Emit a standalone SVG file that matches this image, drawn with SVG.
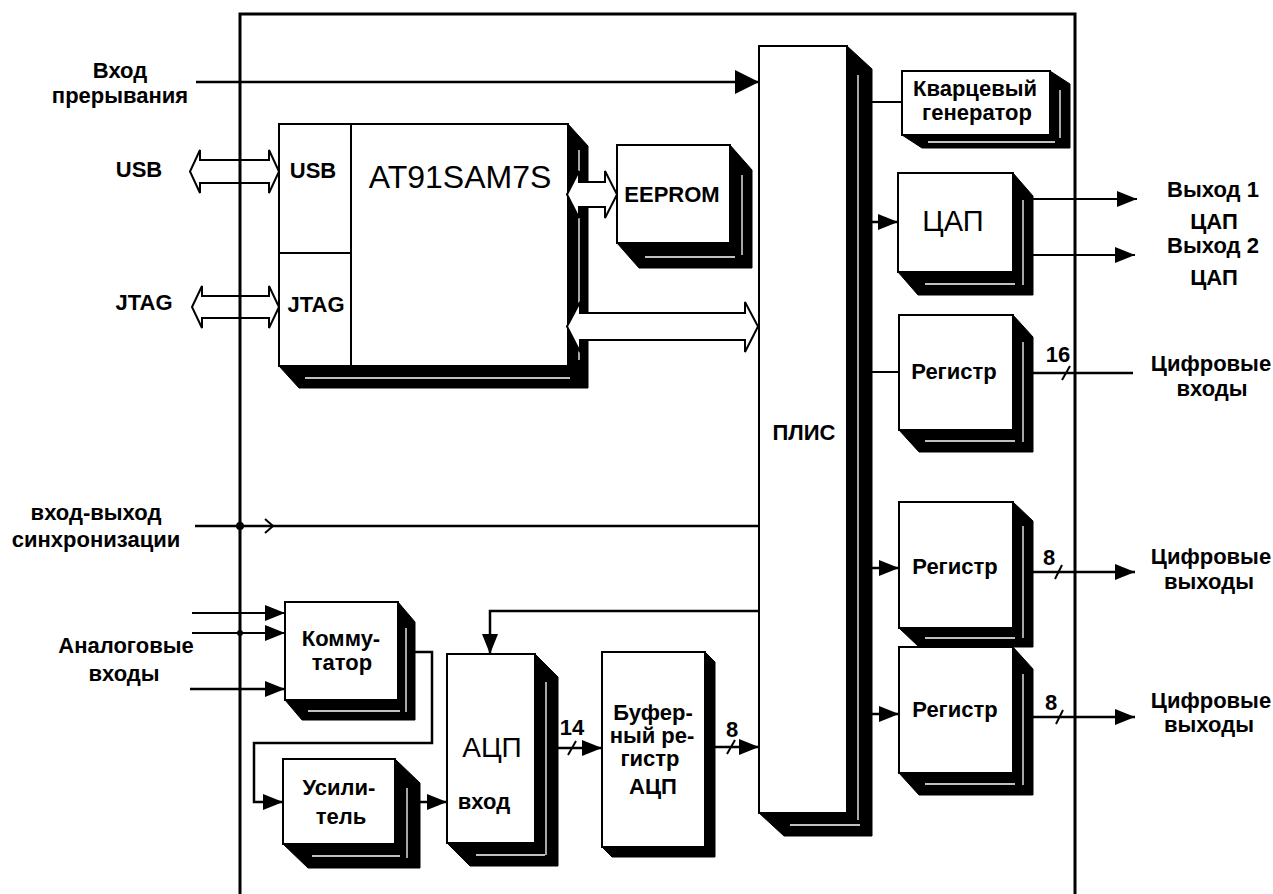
<svg xmlns="http://www.w3.org/2000/svg" width="1273" height="894" viewBox="0 0 1273 894">
<style>
  .face{fill:#fff;stroke:#000;stroke-width:2}
  .sh{fill:#000;stroke:#000;stroke-width:1}
  .tex{stroke:#fff;stroke-width:1.3;fill:none}
  .t{font-family:"Liberation Sans",Arial,sans-serif;font-weight:bold;font-size:22px;fill:#000;text-anchor:middle}
  .tn{font-family:"Liberation Sans",Arial,sans-serif;font-weight:normal;fill:#000;text-anchor:middle}
  .ln{stroke:#000;stroke-width:2.5;fill:none}
  .thin{stroke:#000;stroke-width:2;fill:none}
  .hol{fill:#fff;stroke:#000;stroke-width:2;stroke-linejoin:miter}
  .frame{stroke:#000;stroke-width:3;fill:none}
</style>
<defs>
  <marker id="a" markerUnits="userSpaceOnUse" markerWidth="20" markerHeight="16" viewBox="0 0 20 16" refX="20" refY="8" orient="auto">
    <path d="M0,0 L20,8 L0,16 z" fill="#000"/>
  </marker>
  <marker id="ab" markerUnits="userSpaceOnUse" markerWidth="24" markerHeight="24" viewBox="0 0 24 24" refX="24" refY="12" orient="auto">
    <path d="M0,0 L24,12 L0,24 z" fill="#000"/>
  </marker>
</defs>

<!-- Nodes -->
<g id="at91">
  <polygon class="sh" points="568,124 588,146 588,388 299,388 279,366"/>
  <path class="tex" d="M579,150 V360 M305,378 H570"/>
  <rect class="face" x="279" y="124" width="289" height="242"/>
  <path class="thin" d="M351,124 V366 M279,253 H351"/>
  <text class="t" x="313" y="178">USB</text>
  <text class="t" x="316" y="312">JTAG</text>
  <text class="tn" x="460" y="188" font-size="32">AT91SAM7S</text>
</g>
<g id="eeprom">
  <polygon class="sh" points="730,145 752,170 752,268 639,268 617,243"/>
  <path class="tex" d="M742,175 V255 M645,257 H735"/>
  <rect class="face" x="617" y="145" width="113" height="98"/>
  <text class="t" x="672" y="202" font-size="23">EEPROM</text>
</g>
<g id="plis">
  <polygon class="sh" points="847,46 872,69 872,836 784,836 759,813"/>
  <path class="tex" d="M858,75 V820 M790,825 H860"/>
  <rect class="face" x="759" y="46" width="88" height="767"/>
  <text class="t" x="804" y="440" font-size="25">ПЛИС</text>
</g>
<g id="kvarc">
  <polygon class="sh" points="1050,71 1070,84 1070,148 922,148 902,135"/>
  <path class="tex" d="M1060,90 V138 M928,142 H1055"/>
  <rect class="face" x="902" y="71" width="148" height="64"/>
  <text class="t" x="975" y="96">Кварцевый</text>
  <text class="t" x="977" y="120">генератор</text>
</g>
<g id="cap">
  <polygon class="sh" points="1013,173 1033,196 1033,295 918,295 898,272"/>
  <path class="tex" d="M1023,200 V285 M925,284 H1015"/>
  <rect class="face" x="898" y="173" width="115" height="99"/>
  <text class="tn" x="953" y="231" font-size="29">ЦАП</text>
</g>
<g id="reg1">
  <polygon class="sh" points="1013,315 1033,337 1033,452 919,452 899,430"/>
  <path class="tex" d="M1023,342 V442 M925,441 H1015"/>
  <rect class="face" x="899" y="315" width="114" height="115"/>
  <text class="t" x="954" y="379">Регистр</text>
</g>
<g id="reg2">
  <polygon class="sh" points="1013,502 1033,521 1033,647 919,647 899,628"/>
  <path class="tex" d="M1023,526 V638 M925,638 H1015"/>
  <rect class="face" x="899" y="502" width="114" height="126"/>
  <text class="t" x="955" y="574">Регистр</text>
</g>
<g id="reg3">
  <polygon class="sh" points="1013,647 1033,669 1033,795 919,795 899,773"/>
  <path class="tex" d="M1023,674 V785 M925,784 H1015"/>
  <rect class="face" x="899" y="647" width="114" height="126"/>
  <text class="t" x="955" y="717">Регистр</text>
</g>
<g id="komm">
  <polygon class="sh" points="398,602 415,622 415,720 302,720 285,700"/>
  <path class="tex" d="M406,628 V712 M308,711 H400"/>
  <rect class="face" x="285" y="602" width="113" height="98"/>
  <text class="t" x="341" y="646">Комму-</text>
  <text class="t" x="342" y="670">татор</text>
</g>
<g id="usil">
  <polygon class="sh" points="395,759 420,783 420,868 308,868 283,844"/>
  <path class="tex" d="M407,788 V858 M312,856 H400"/>
  <rect class="face" x="283" y="759" width="112" height="85"/>
  <text class="t" x="339" y="795">Усили-</text>
  <text class="t" x="341" y="824">тель</text>
</g>
<g id="adc">
  <polygon class="sh" points="535,654 558,677 558,866 470,866 447,843"/>
  <path class="tex" d="M546,682 V855 M476,855 H545"/>
  <rect class="face" x="447" y="654" width="88" height="189"/>
  <text class="tn" x="492" y="757" font-size="28">АЦП</text>
  <text class="t" x="484" y="809">вход</text>
</g>
<g id="buf">
  <polygon class="sh" points="705,652 715,662 715,857 612,857 602,847"/>
  <rect class="face" x="602" y="652" width="103" height="195"/>
  <text class="t" x="653" y="720" font-size="19">Буфер-</text>
  <text class="t" x="652" y="743" font-size="19">ный ре-</text>
  <text class="t" x="650" y="766" font-size="19">гистр</text>
  <text class="t" x="653" y="794" font-size="19">АЦП</text>
</g>

<!-- Connectors -->
<g id="connectors">
  <line class="ln" x1="196" y1="82" x2="759" y2="82" marker-end="url(#ab)"/>
  <polygon class="hol" points="190,171.5 200,150 200,160 269,160 269,150 279,171.5 269,193 269,183 200,183 200,193"/>
  <polygon class="hol" points="192,307 202,286 202,296 269,296 269,286 279,307 269,328 269,318 202,318 202,328"/>
  <polygon class="hol" points="567,194.5 579,171 579,182 605,182 605,171 617,194.5 605,218 605,207 579,207 579,218"/>
  <polygon class="hol" points="567,326.5 580,302 580,313 745,313 745,302 758,326.5 745,352 745,340 580,340 580,352"/>
  <line class="thin" x1="872" y1="102" x2="902" y2="102"/>
  <line class="ln" x1="872" y1="222" x2="898" y2="222" marker-end="url(#a)"/>
  <line class="thin" x1="1033" y1="199" x2="1137" y2="199" marker-end="url(#a)"/>
  <line class="thin" x1="1033" y1="255" x2="1135" y2="255" marker-end="url(#a)"/>
  <line class="thin" x1="872" y1="372" x2="899" y2="372"/>
  <line class="ln" x1="1033" y1="373" x2="1133" y2="373"/>
  <line class="thin" x1="1062" y1="380" x2="1070" y2="366"/>
  <text class="t" x="1058" y="362">16</text>
  <line class="ln" x1="872" y1="568" x2="899" y2="568" marker-end="url(#a)"/>
  <line class="ln" x1="1033" y1="572" x2="1135" y2="572" marker-end="url(#a)"/>
  <line class="thin" x1="1055" y1="579" x2="1062" y2="565"/>
  <text class="t" x="1049" y="565">8</text>
  <line class="ln" x1="872" y1="714" x2="899" y2="714" marker-end="url(#a)"/>
  <line class="ln" x1="1033" y1="717" x2="1135" y2="717" marker-end="url(#a)"/>
  <line class="thin" x1="1056" y1="724" x2="1063" y2="710"/>
  <text class="t" x="1051" y="710">8</text>
  <line class="ln" x1="195" y1="526" x2="759" y2="526"/>
  <polyline class="thin" points="265,519 273,526 265,533"/>
  <circle cx="240" cy="526" r="4" fill="#000"/>
  <line class="thin" x1="192" y1="613" x2="285" y2="613" marker-end="url(#a)"/>
  <line class="thin" x1="192" y1="633" x2="285" y2="633" marker-end="url(#a)"/>
  <line class="ln" x1="190" y1="689" x2="285" y2="689" marker-end="url(#a)"/>
  <circle cx="240" cy="633" r="3" fill="#000"/>
  <polyline class="ln" points="415,652 432,652 432,743 254,743 254,802 283,802" marker-end="url(#a)"/>
  <line class="ln" x1="420" y1="802" x2="447" y2="802" marker-end="url(#a)"/>
  <polyline class="ln" points="759,611 490,611 490,654" marker-end="url(#a)"/>
  <line class="ln" x1="558" y1="748" x2="602" y2="748" marker-end="url(#a)"/>
  <line class="thin" x1="568" y1="755" x2="576" y2="741"/>
  <text class="t" x="572" y="735">14</text>
  <line class="ln" x1="715" y1="747" x2="759" y2="747" marker-end="url(#a)"/>
  <line class="thin" x1="727" y1="754" x2="735" y2="740"/>
  <text class="t" x="732" y="737">8</text>
</g>

<!-- Frame -->
<g id="frame">
  <path class="frame" d="M240,894 V14 H1075 V894"/>
</g>

<!-- External labels -->
<g id="labels">
  <text class="t" x="120" y="78">Вход</text>
  <text class="t" x="120" y="103">прерывания</text>
  <text class="t" x="139" y="177">USB</text>
  <text class="t" x="144" y="310">JTAG</text>
  <text class="t" x="96" y="520">вход-выход</text>
  <text class="t" x="96" y="547">синхронизации</text>
  <text class="t" x="126" y="653">Аналоговые</text>
  <text class="t" x="124" y="681">входы</text>
  <text class="t" x="1213" y="197">Выход 1</text>
  <text class="t" x="1214" y="229">ЦАП</text>
  <text class="t" x="1213" y="253">Выход 2</text>
  <text class="t" x="1214" y="285">ЦАП</text>
  <text class="t" x="1211" y="371">Цифровые</text>
  <text class="t" x="1212" y="396">входы</text>
  <text class="t" x="1211" y="564">Цифровые</text>
  <text class="t" x="1209" y="589">выходы</text>
  <text class="t" x="1211" y="708">Цифровые</text>
  <text class="t" x="1209" y="732">выходы</text>
</g>
</svg>
